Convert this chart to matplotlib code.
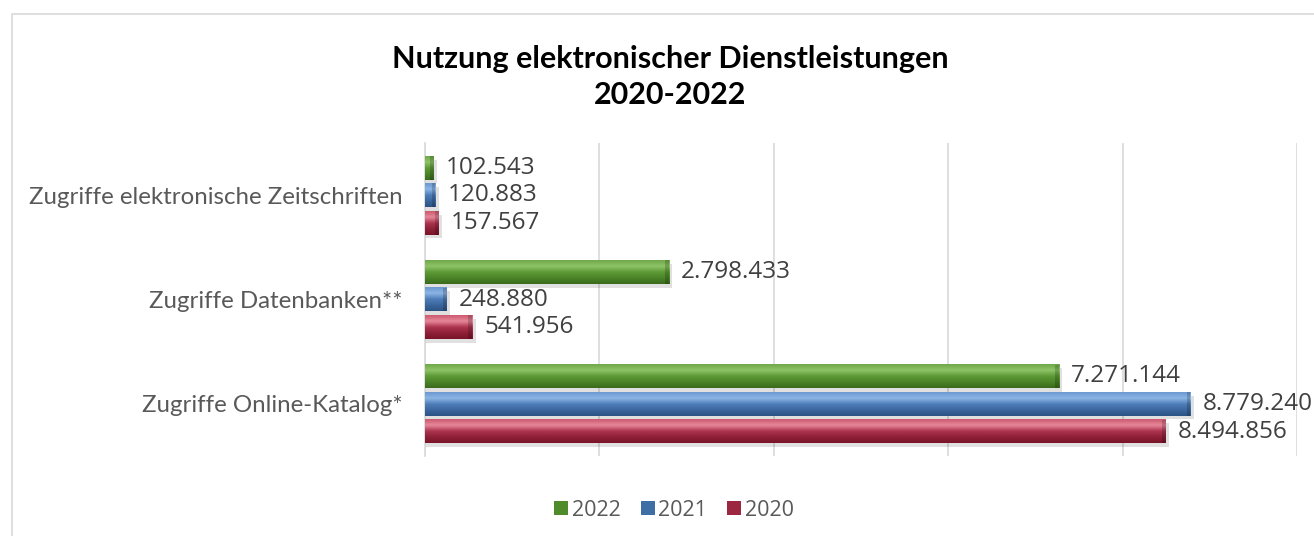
import numpy as np
import matplotlib.pyplot as plt
from matplotlib.colors import LinearSegmentedColormap
from matplotlib.patches import Rectangle, Patch

categories = ['Zugriffe Online-Katalog*', 'Zugriffe Datenbanken**',
              'Zugriffe elektronische Zeitschriften']
years = ['2022', '2021', '2020']
values_2022 = [7271144, 2798433, 102543]
values_2021 = [8779240, 248880, 120883]
values_2020 = [8494856, 541956, 157567]

title = 'Nutzung elektronischer Dienstleistungen\n2020-2022'

base_colors = {'2022': '#4f8a2b', '2021': '#3f6da6', '2020': '#9b2740'}
grad_stops = {
    '2022': ['#3a6a1c', '#4a8428', '#5d9a35', '#8fc568', '#6fa848'],
    '2021': ['#2c5385', '#3b679e', '#4d7db8', '#8db6e6', '#6a98d0'],
    '2020': ['#7a1428', '#8e2038', '#ad3450', '#e8889a', '#cc5a70'],
}


def fmt(v):
    return f'{v:,}'.replace(',', '.')


def draw_bar(ax, bar, year):
    x0, y0 = bar.get_x(), bar.get_y()
    w, h = bar.get_width(), bar.get_height()
    # soft shadow under the bar
    ax.add_patch(Rectangle((x0, y0 - 0.035), w + 40000, h, color='black',
                           alpha=0.12, lw=0, zorder=2))
    cmap = LinearSegmentedColormap.from_list('g' + year, grad_stops[year])
    grad = np.linspace(0, 1, 64).reshape(-1, 1)
    ax.imshow(grad, cmap=cmap, aspect='auto', origin='lower',
              extent=(x0, x0 + w, y0, y0 + h), zorder=3,
              interpolation='bicubic')
    # darker bevel at the right end
    ax.add_patch(Rectangle((x0 + w - 45000, y0), 45000, h,
                           color='black', alpha=0.18, lw=0, zorder=4))


plt.rcParams['font.family'] = ['Open Sans', 'DejaVu Sans']

fig = plt.figure(figsize=(13.14, 5.36), dpi=100)
ax = fig.add_axes([0.3234, 0.149, 0.987 - 0.3234, 0.733 - 0.149])

y = np.arange(len(categories))
step = 0.264
height = 0.226
series = [(values_2022, '2022', step), (values_2021, '2021', 0.0),
          (values_2020, '2020', -step)]

for vals, yr, off in series:
    bars = ax.barh(y + off, vals, height=height, color=base_colors[yr],
                   lw=0, zorder=1, label=yr)
    for b, v in zip(bars, vals):
        draw_bar(ax, b, yr)
        ax.text(v + 140000, b.get_y() + b.get_height() / 2, fmt(v),
                va='center', ha='left', fontsize=17.5, color='#404040',
                zorder=5)

ax.set_xlim(0, 10000000)
ax.set_ylim(-0.5, 2.5)
ax.set_xticks(np.arange(0, 10000001, 2000000))
ax.set_xticklabels([])
ax.tick_params(axis='both', length=0)
ax.grid(axis='x', color='#d9d9d9', lw=1.2, zorder=0)
ax.set_axisbelow(True)
for s in ['top', 'right', 'bottom']:
    ax.spines[s].set_visible(False)
ax.spines['left'].set_color('#d9d9d9')
ax.spines['left'].set_linewidth(1.2)
ax.set_yticks(y)
ax.set_yticklabels(categories, fontsize=17.3, color='#595959',
                   family=['Lato', 'DejaVu Sans'])
ax.tick_params(axis='y', pad=16)

fig.text(0.51, 0.856, title, ha='center', va='center', fontsize=22,
         fontweight='bold', color='black', linespacing=1.35,
         family=['Lato', 'DejaVu Sans'])

handles = [Patch(facecolor=base_colors[yr], edgecolor='none') for yr in years]
fig.legend(handles, years, loc='center', bbox_to_anchor=(0.513, 0.0485),
           ncol=3, frameon=False, fontsize=15.5, handlelength=0.65,
           handleheight=0.65, handletextpad=0.15, columnspacing=0.95,
           labelcolor='#595959')

fig.patches.append(Rectangle((12 / 1314, -0.1), 1.2, 1.1 - 14 / 536,
                             transform=fig.transFigure, fill=False,
                             edgecolor='#d9d9d9', lw=1.2, zorder=0))

fig.savefig('out.png', dpi=100)
